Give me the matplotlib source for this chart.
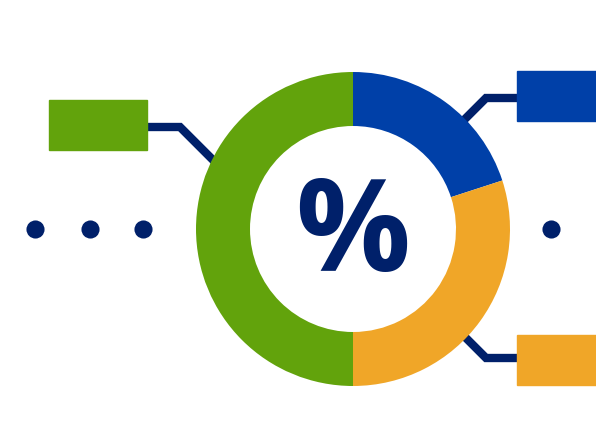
import matplotlib.pyplot as plt
from matplotlib.patches import Rectangle

# data
labels = ['Blue', 'Orange', 'Green']
shares = [20, 30, 50]
colors = ['#0040a8', '#f0a628', '#62a30c']
navy = '#00206a'

W, H = 596, 437

fig = plt.figure(figsize=(W / 100, H / 100), dpi=100)
ax = fig.add_axes([0, 0, 1, 1])
ax.set_xlim(0, W)
ax.set_ylim(0, H)
ax.set_aspect('equal')
ax.axis('off')


def fy(y):
    # convert from top-down pixel rows
    return H - y


cx, cy = 353, fy(229)

# connector lines (drawn under the donut)
ax.plot([147, 180, 222], [fy(127), fy(127), fy(169)], color=navy, lw=6,
        solid_joinstyle='miter', zorder=1)
ax.plot([517, 486, 455], [fy(98), fy(98), fy(129)], color=navy, lw=6,
        solid_joinstyle='miter', zorder=1)
ax.plot([517, 486, 455], [fy(358), fy(358), fy(327)], color=navy, lw=6,
        solid_joinstyle='miter', zorder=1)

ax.pie(shares, colors=colors, startangle=90, counterclock=False,
       center=(cx, cy), radius=157, frame=True,
       wedgeprops=dict(width=54, linewidth=0))
ax.set_xlim(0, W)
ax.set_ylim(0, H)
ax.axis('off')

# label boxes
ax.add_patch(Rectangle((49, fy(150)), 98, 50, color=colors[2], zorder=3))
ax.add_patch(Rectangle((517, fy(121)), 80, 50, color=colors[0], zorder=3))
ax.add_patch(Rectangle((517, fy(385)), 80, 50, color=colors[1], zorder=3))

# dots
ax.scatter([35, 90, 143, 551], [fy(229)] * 4, s=170, color=navy, zorder=3,
           linewidths=0)

ax.text(cx, cy - 9, '%', ha='center', va='center', fontsize=92,
        fontweight='bold', family='Open Sans', color=navy, zorder=4)

plt.savefig('out.png', dpi=100)
